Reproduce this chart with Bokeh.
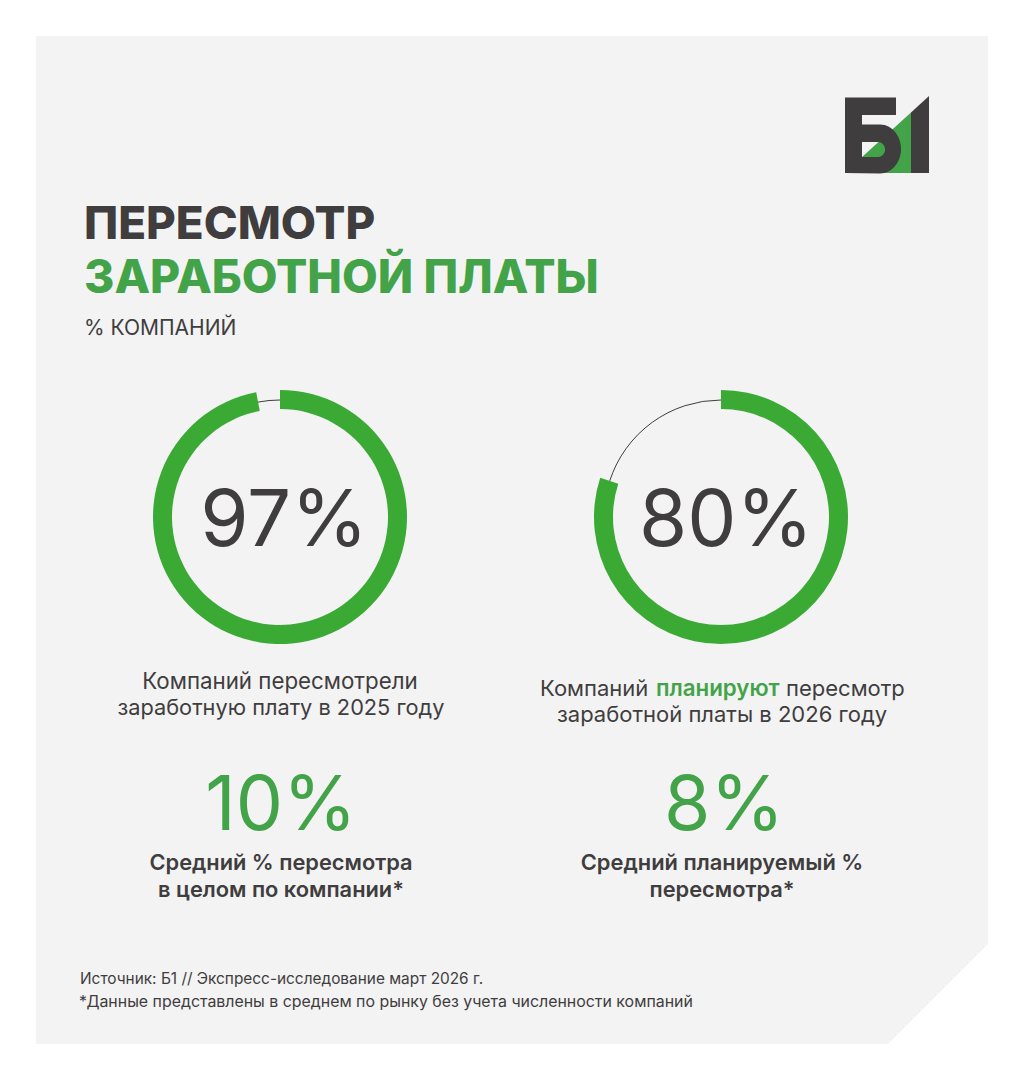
import numpy as np
from bokeh.plotting import figure
from bokeh.models import Range1d
from bokeh.core.properties import value
from bokeh.embed import file_html
from bokeh.resources import INLINE

ring_values = [97, 80]
ring_labels = ["97%", "80%"]
avg_labels = ["10%", "8%"]
title_lines = ["ПЕРЕСМОТР", "ЗАРАБОТНОЙ ПЛАТЫ"]
subtitle = "% КОМПАНИЙ"
left_caption = ["Компаний пересмотрели", "заработную плату в 2025 году"]
right_caption_parts = ["Компаний", "планируют", "пересмотр"]
right_caption_2 = "заработной платы в 2026 году"
left_note = ["Средний % пересмотра", "в целом по компании*"]
right_note = ["Средний планируемый %", "пересмотра*"]
footer = ["Источник: Б1 // Экспресс-исследование март 2026 г.",
          "*Данные представлены в среднем по рынку без учета численности компаний"]

DARK = "#3f3d3e"
RING = "#3aaa35"
GREEN = "#43a349"
PANEL = "#f3f3f3"
FONT = "Inter"

p = figure(width=1008, height=1064, x_range=Range1d(0.5, 1008.5), y_range=Range1d(1064.5, 0.5),
           output_backend="svg", toolbar_location=None, min_border=0)
p.axis.visible = False
p.grid.visible = False
p.outline_line_color = None
p.background_fill_color = "#ffffff"
p.border_fill_color = "#ffffff"

p.patch([36, 988, 988, 888, 36], [36, 36, 944, 1044, 1044], fill_color=PANEL, line_color=None)

# logo
t = np.linspace(-np.pi / 2, np.pi / 2, 30)
bx = list(845 + 35 + 21 * np.cos(t))
by = list(149 + 24.5 * np.sin(t))
hx = list(862 + 16 + 7 * np.cos(t))
hy = list(149.5 + 7.5 * np.sin(t))
p.patch([862, 911, 911, 862], [157, 112.5, 173, 173], fill_color=GREEN, line_color=None)
p.patch([911, 929, 929, 911], [112.5, 96, 173, 173], fill_color=DARK, line_color=None)
p.multi_polygons(
    xs=[[[[845, 896, 896, 862, 862] + bx + [845], [862] + hx + [862]]]],
    ys=[[[[97.5, 97.5, 115, 115, 124.5] + by + [173], [142] + hy + [157]]]],
    fill_color=DARK, line_color=None)


def txt(x, y, s, size, color=DARK, align="center", style="normal", font=FONT):
    p.text([x], [y - 0.38 * size], text=[s], text_font=value(font), text_font_size=f"{size}px",
           text_color=color, text_align=align, text_baseline="alphabetic", text_font_style=style)


# rings
centers = [280, 721]
cy = 517
label_x = [284, 726]
for cx, v in zip(centers, ring_values):
    sweep = 2 * np.pi * v / 100
    p.annular_wedge([cx], [cy], inner_radius=108, outer_radius=127,
                    start_angle=np.pi / 2, end_angle=np.pi / 2 - sweep,
                    direction="clock", fill_color=RING, line_color=None)
    p.arc([cx], [cy], radius=117, start_angle=np.pi / 2 - sweep, end_angle=np.pi / 2,
          direction="clock", line_color=DARK, line_width=1)
for lx, lab in zip(label_x, ring_labels):
    txt(lx, 547, lab, 78)

# title
txt(84, 240, title_lines[0], 45.7, DARK, "left", "bold", "Inter ExtraBold")
txt(84, 294, title_lines[1], 46.3, GREEN, "left", "bold", "Inter ExtraBold")
txt(84, 335, subtitle, 21, DARK, "left")

# captions
txt(280, 689, left_caption[0], 22.3)
txt(281, 715, left_caption[1], 21.75)
txt(540, 696, right_caption_parts[0], 22, DARK, "left")
txt(656, 696, right_caption_parts[1], 22.3, GREEN, "left", "normal", "Inter SemiBold")
txt(786, 696, right_caption_parts[2], 22, DARK, "left")
txt(722, 722, right_caption_2, 22)

# averages
txt(281, 831, avg_labels[0], 75, GREEN)
txt(724, 831, avg_labels[1], 75, GREEN)
txt(281, 870, left_note[0], 21.8, DARK, "center", "normal", "Inter SemiBold")
txt(281, 897, left_note[1], 21.8, DARK, "center", "normal", "Inter SemiBold")
txt(722, 870, right_note[0], 21.9, DARK, "center", "normal", "Inter SemiBold")
txt(722, 897, right_note[1], 21.8, DARK, "center", "normal", "Inter SemiBold")

# footer
txt(80, 984, footer[0], 15.4, DARK, "left")
txt(79, 1008, footer[1], 15.9, DARK, "left")

open("out.html", "w").write(file_html(p, INLINE))
